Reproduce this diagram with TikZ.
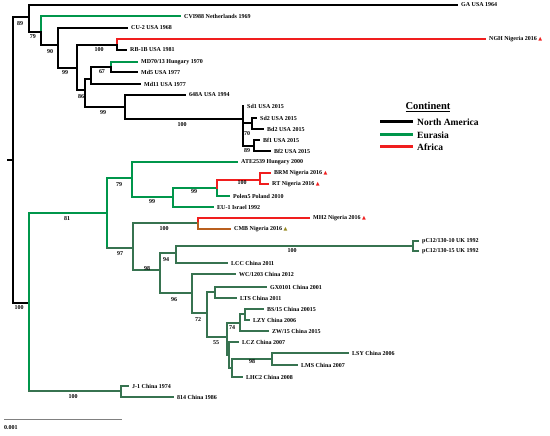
\documentclass[tikz,border=0pt]{standalone}
\usepackage{fontspec}
\setmainfont{Liberation Serif}
\newfontfamily\dvs{DejaVu Sans}
\definecolor{eu}{RGB}{0,150,75}
\definecolor{eud}{RGB}{55,115,80}
\definecolor{af}{RGB}{240,30,30}
\definecolor{cmb}{RGB}{185,95,30}
\definecolor{olv}{RGB}{150,135,30}
\newcommand{\tri}[1]{{\dvs\fontsize{5}{6}\selectfont\color{#1}▲}}
\begin{document}
\begin{tikzpicture}[x=1pt,y=-1pt,
  br/.style={line width=1.5pt,line cap=rect},
  lf/.style={anchor=west,inner xsep=4pt,inner ysep=0pt,font=\fontsize{6}{7}\selectfont\bfseries},
  bs/.style={inner sep=0pt,font=\fontsize{6}{7}\selectfont\bfseries},
  legline/.style={line width=3pt},
  legtext/.style={anchor=west,inner xsep=4pt,inner ysep=0pt,font=\fontsize{9.5}{11}\selectfont\bfseries}]
\useasboundingbox (0,0) rectangle (550,436);
% ---------- internal node coordinates ----------
\coordinate (r0) at (8,160);
\coordinate (n13) at (13,160);
\coordinate (a29) at (29,17);
\coordinate (a41) at (41,32);
\coordinate (a58) at (58,45);
\coordinate (a77) at (77,68);
\coordinate (a117) at (117,45);
\coordinate (a85) at (85,90);
\coordinate (a91) at (91,79);
\coordinate (a111) at (111,67);
\coordinate (a125) at (125,107);
\coordinate (a243) at (243,119);
\coordinate (a252) at (252,123);
\coordinate (a254) at (254,146);
\coordinate (b29) at (29,303);
\coordinate (b107) at (107,213);
\coordinate (b132) at (132,178);
\coordinate (b173) at (173,197);
\coordinate (b217) at (217,188);
\coordinate (b260) at (260,180);
\coordinate (b133) at (133,248);
\coordinate (b198) at (198,223);
\coordinate (b160) at (160,270);
\coordinate (b176) at (176,253);
\coordinate (b413) at (413,246);
\coordinate (b192) at (192,293);
\coordinate (b207) at (207,313);
\coordinate (b215) at (215,292);
\coordinate (b227) at (227,337);
\coordinate (b240) at (240,323);
\coordinate (b245) at (245,314);
\coordinate (b229) at (229,355);
\coordinate (b232) at (232,368);
\coordinate (b272) at (272,359);
\coordinate (b121) at (121,391);
% ---------- leaves ----------
\node[lf] (GA) at (457,5) {GA USA 1964};
\node[lf] (CVI) at (180,16) {CVI988 Netherlands 1969};
\node[lf] (CU2) at (127,28) {CU-2 USA 1968};
\node[lf] (NGH) at (485,39) {NGH Nigeria 2016 \tri{af}};
\node[lf] (RB) at (126,50) {RB-1B USA 1981};
\node[lf] (MD70) at (137,62) {MD70/13 Hungary 1970};
\node[lf] (Md5) at (137,72) {Md5 USA 1977};
\node[lf] (Md11) at (140,84) {Md11 USA 1977};
\node[lf] (A648) at (185,95) {648A USA 1994};
\node[lf] (Sd1) at (243,106) {Sd1 USA 2015};
\node[lf] (Sd2) at (256,118) {Sd2 USA 2015};
\node[lf] (Bd2) at (263,129) {Bd2 USA 2015};
\node[lf] (Bf1) at (259,140) {Bf1 USA 2015};
\node[lf] (Bf2) at (270,151) {Bf2 USA 2015};
\node[lf] (ATE) at (237,162) {ATE2539 Hungary 2000};
\node[lf] (BRM) at (270,173) {BRM Nigeria 2016 \tri{af}};
\node[lf] (RT) at (268,184) {RT Nigeria 2016 \tri{af}};
\node[lf] (Pol) at (229,196) {Polen5 Poland 2010};
\node[lf] (EU1) at (213,207) {EU-1 Israel 1992};
\node[lf] (MH2) at (309,218) {MH2 Nigeria 2016 \tri{af}};
\node[lf] (CMB) at (230,229) {CMB Nigeria 2016 \tri{olv}};
\node[lf] (pC10) at (418,241) {pC12/130-10 UK 1992};
\node[lf] (pC15) at (418,251) {pC12/130-15 UK 1992};
\node[lf] (LCC) at (227,263) {LCC China 2011};
\node[lf] (WC) at (235,274) {WC/1203 China 2012};
\node[lf] (GX) at (266,287) {GX0101 China 2001};
\node[lf] (LTS) at (236,298) {LTS China 2011};
\node[lf] (BS) at (263,309) {BS/15 China 20015};
\node[lf] (LZY) at (249,320) {LZY China 2006};
\node[lf] (ZW) at (268,331) {ZW/15 China 2015};
\node[lf] (LCZ) at (238,342) {LCZ China 2007};
\node[lf] (LSY) at (348,353) {LSY China 2006};
\node[lf] (LMS) at (297,365) {LMS China 2007};
\node[lf] (LHC) at (242,377) {LHC2 China 2008};
\node[lf] (J1) at (128,386) {J-1 China 1974};
\node[lf] (C814) at (173,397) {814 China 1986};
% ---------- top (North America) clade ----------
\draw[br] (r0) -- (n13);
\draw[br] (n13 |- a29) -- (n13 |- b29);
\draw[br] (n13 |- a29) -- (a29);
\draw[br] (a29 |- GA.west) -- (a29 |- a41);
\draw[br] (a29 |- GA.west) -- (GA.west);
\draw[br] (a29 |- a41) -- (a41);
\draw[br,eu] (a41 |- CVI.west) -- (a41);
\draw[br,eu] (a41 |- CVI.west) -- (CVI.west);
\draw[br] (a41) -- (a41 |- a58);
\draw[br] (a41 |- a58) -- (a58);
\draw[br] (a58 |- CU2.west) -- (a58 |- a77);
\draw[br] (a58 |- CU2.west) -- (CU2.west);
\draw[br] (a58 |- a77) -- (a77);
\draw[br] (a77 |- a117) -- (a77 |- a85);
\draw[br] (a77 |- a117) -- (a117);
\draw[br,af] (a117 |- NGH.west) -- (a117);
\draw[br,af] (a117 |- NGH.west) -- (NGH.west);
\draw[br] (a117) -- (a117 |- RB.west) -- (RB.west);
\draw[br] (a77 |- a85) -- (a85);
\draw[br] (a85 |- a91) -- (a85 |- a125);
\draw[br] (a85 |- a91) -- (a91);
\draw[br] (a91 |- a111) -- (a91 |- Md11.west) -- (Md11.west);
\draw[br] (a91 |- a111) -- (a111);
\draw[br,eu] (a111 |- MD70.west) -- (a111);
\draw[br,eu] (a111 |- MD70.west) -- (MD70.west);
\draw[br] (a111) -- (a111 |- Md5.west) -- (Md5.west);
\draw[br] (a85 |- a125) -- (a125);
\draw[br] (a125 |- A648.west) -- (a125 |- a243);
\draw[br] (a125 |- A648.west) -- (A648.west);
\draw[br] (a125 |- a243) -- (a243);
\draw[br] (a243 |- Sd1.west) -- (a243 |- a254);
\draw[br] (a243 |- a252) -- (a252);
\draw[br] (a243 |- a254) -- (a254);
\draw[br] (a252 |- Sd2.west) -- (a252 |- Bd2.west) -- (Bd2.west);
\draw[br] (a252 |- Sd2.west) -- (Sd2.west);
\draw[br] (a254 |- Bf1.west) -- (a254 |- Bf2.west) -- (Bf2.west);
\draw[br] (a254 |- Bf1.west) -- (Bf1.west);
% ---------- bottom (Eurasia / Africa) clade ----------
\draw[br] (n13 |- b29) -- (b29);
\draw[br,eu] (b29 |- b107) -- (b29 |- b121);
\draw[br,eu] (b29 |- b107) -- (b107);
\draw[br,eu] (b107 |- b132) -- (b107 |- b133);
\draw[br,eu] (b107 |- b132) -- (b132);
\draw[br,eu] (b132 |- ATE.west) -- (b132 |- b173);
\draw[br,eu] (b132 |- ATE.west) -- (ATE.west);
\draw[br,eu] (b132 |- b173) -- (b173);
\draw[br,eu] (b173 |- b217) -- (b173 |- EU1.west) -- (EU1.west);
\draw[br,eu] (b173 |- b217) -- (b217);
\draw[br,eu] (b217) -- (b217 |- Pol.west) -- (Pol.west);
\draw[br,af] (b217) -- (b217 |- b260) -- (b260);
\draw[br,af] (b260 |- BRM.west) -- (b260 |- RT.west) -- (RT.west);
\draw[br,af] (b260 |- BRM.west) -- (BRM.west);
\draw[br,eud] (b107 |- b133) -- (b133);
\draw[br,eud] (b133 |- b198) -- (b133 |- b160);
\draw[br,eud] (b133 |- b198) -- (b198);
\draw[br,af] (b198) -- (b198 |- MH2.west) -- (MH2.west);
\draw[br,cmb] (b198) -- (b198 |- CMB.west) -- (CMB.west);
\draw[br,eud] (b133 |- b160) -- (b160);
\draw[br,eud] (b160 |- b176) -- (b160 |- b192);
\draw[br,eud] (b160 |- b176) -- (b176);
\draw[br,eud] (b176 |- b413) -- (b176 |- LCC.west) -- (LCC.west);
\draw[br,eud] (b176 |- b413) -- (b413);
\draw[br,eud] (b413 |- pC10.west) -- (b413 |- pC15.west) -- (pC15.west);
\draw[br,eud] (b413 |- pC10.west) -- (pC10.west);
\draw[br,eud] (b160 |- b192) -- (b192);
\draw[br,eud] (b192 |- WC.west) -- (b192 |- b207);
\draw[br,eud] (b192 |- WC.west) -- (WC.west);
\draw[br,eud] (b192 |- b207) -- (b207);
\draw[br,eud] (b207 |- b215) -- (b207 |- b227);
\draw[br,eud] (b207 |- b215) -- (b215);
\draw[br,eud] (b215 |- GX.west) -- (b215 |- LTS.west) -- (LTS.west);
\draw[br,eud] (b215 |- GX.west) -- (GX.west);
\draw[br,eud] (b207 |- b227) -- (b227);
\draw[br,eud] (b227 |- b240) -- (b227 |- b229);
\draw[br,eud] (b227 |- b240) -- (b240);
\draw[br,eud] (b240 |- b245) -- (b240 |- ZW.west) -- (ZW.west);
\draw[br,eud] (b240 |- b245) -- (b245);
\draw[br,eud] (b245 |- BS.west) -- (b245 |- LZY.west) -- (LZY.west);
\draw[br,eud] (b245 |- BS.west) -- (BS.west);
\draw[br,eud] (b227 |- b229) -- (b229);
\draw[br,eud] (b229 |- LCZ.west) -- (b229 |- b232);
\draw[br,eud] (b229 |- LCZ.west) -- (LCZ.west);
\draw[br,eud] (b229 |- b232) -- (b232);
\draw[br,eud] (b232 |- b272) -- (b232 |- LHC.west) -- (LHC.west);
\draw[br,eud] (b232 |- b272) -- (b272);
\draw[br,eud] (b272 |- LSY.west) -- (b272 |- LMS.west) -- (LMS.west);
\draw[br,eud] (b272 |- LSY.west) -- (LSY.west);
\draw[br,eud] (b29 |- b121) -- (b121);
\draw[br,eud] (b121 |- J1.west) -- (b121 |- C814.west) -- (C814.west);
\draw[br,eud] (b121 |- J1.west) -- (J1.west);
% ---------- bootstrap values ----------
\foreach \px/\py/\t [count=\i] in {20/24/89, 33/37/79, 50/52/90, 65/73/99, 99/50/100,
  102/72/67, 81/97/86, 103/113/99, 182/125/100, 247/134/70, 247/151/89,
  19/308/100, 67/219/81, 119/185/79, 152/202/99, 194/192/99, 242/183/100,
  120/254/97, 164/229/100, 166/260/94, 292/251/100, 147/269/98, 174/300/96,
  198/320/72, 232/328/74, 216/343/55, 252/362/98, 73/397/100}
  {\node[bs] (bs\i) at (\px,\py) {\t};}
% ---------- legend ----------
\node[font=\fontsize{10.5}{12}\selectfont\bfseries,inner sep=0pt] (legtitle) at (428,107) {\underline{Continent}};
\coordinate (lg1) at (380,122);
\coordinate (lg2) at (380,135);
\coordinate (lg3) at (380,147);
\node[legtext] (lgNA) at (413,122) {North America};
\node[legtext] (lgEU) at (413,135) {Eurasia};
\node[legtext] (lgAF) at (413,147) {Africa};
\draw[legline] (lg1) -- (lgNA.west);
\draw[legline,eu] (lg2) -- (lgEU.west);
\draw[legline,af] (lg3) -- (lgAF.west);
% ---------- scale bar ----------
\coordinate (s0) at (4,419);
\coordinate (s1) at (122,419);
\draw[gray,line width=0.8pt] (s0) -- (s1);
\node[anchor=west,inner sep=0pt,font=\fontsize{6}{7}\selectfont\bfseries] (scl) at (4,428) {0.001};
\end{tikzpicture}
\end{document}
